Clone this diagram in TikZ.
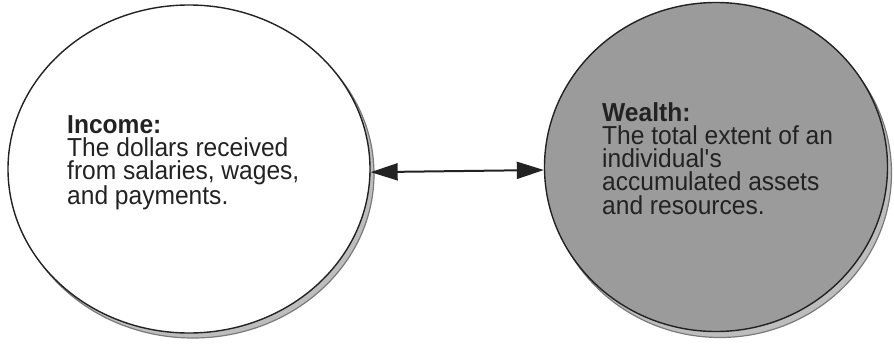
\documentclass[tikz,border=0pt]{standalone}
\usepackage{fontspec}
\setmainfont[FakeStretch=0.945]{Liberation Sans}
\usetikzlibrary{shapes.geometric,arrows.meta}
\definecolor{ink}{HTML}{222222}
\definecolor{wealthfill}{HTML}{9B9B9B}
\definecolor{shadowfill}{HTML}{BDBDBD}
\definecolor{shadowline}{HTML}{7A7A7A}
\tikzset{
  bubble/.style={ellipse, draw=ink, line width=1.4pt, inner sep=0pt},
  shadowbubble/.style={ellipse, draw=shadowline, fill=shadowfill, line width=1.2pt, inner sep=0pt},
  deftext/.style={anchor=base west, align=left, inner sep=0pt, text=ink,
    font=\fontsize{26}{23.3}\selectfont},
  link/.style={draw=ink, line width=2pt, {Triangle[length=27pt,width=17pt]}-{Triangle[length=27pt,width=17pt]}}
}
\begin{document}
\begin{tikzpicture}[x=1pt,y=-1pt]
\useasboundingbox (0,0) rectangle (894,345);
% shadows
\node[shadowbubble, minimum width=362pt, minimum height=328pt] (incomeshadow) at (193,174) {};
\node[shadowbubble, minimum width=343pt, minimum height=329pt] (wealthshadow) at (720,173) {};
% circles
\node[bubble, fill=white, minimum width=362pt, minimum height=328pt] (income) at (189,169) {};
\node[bubble, fill=wealthfill, minimum width=343pt, minimum height=329pt] (wealth) at (716,167) {};
% texts (anchored at the baseline of the last line)
\node[deftext] (incometext) at (67,204.9) {\textbf{Income:}\\The dollars received\\from salaries, wages,\\and payments.};
\node[deftext] (wealthtext) at (602,214.2) {\textbf{Wealth:}\\The total extent of an\\individual\textquotesingle s\\accumulated assets\\and resources.};
% connector
\draw[link] (income.-1) -- (wealth.181.7);
\end{tikzpicture}
\end{document}
